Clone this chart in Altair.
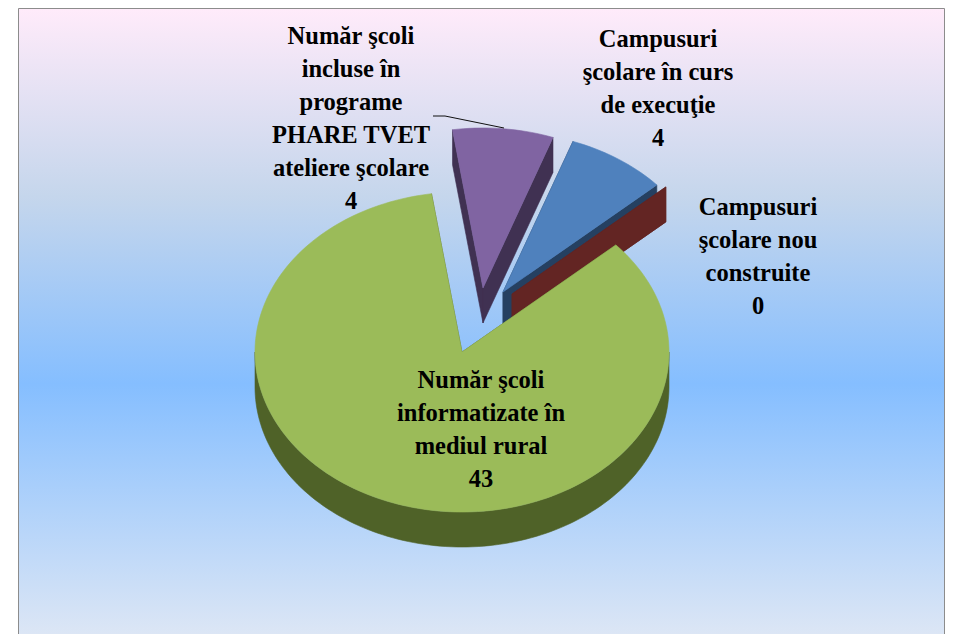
import math
import altair as alt

# --- data
categories = ["Număr şcoli informatizate în mediul rural",
              "Număr şcoli incluse în programe PHARE TVET ateliere şcolare",
              "Campusuri şcolare în curs de execuţie",
              "Campusuri şcolare nou construite"]
values = [43, 4, 4, 0]
label_lines = [
    ["Număr şcoli", "informatizate în", "mediul rural", "43"],
    ["Număr şcoli", "incluse în", "programe", "PHARE TVET", "ateliere şcolare", "4"],
    ["Campusuri", "şcolare în curs", "de execuţie", "4"],
    ["Campusuri", "şcolare nou", "construite", "0"],
]
top_colors = ["#9BBB59", "#8064A2", "#4F81BD", "#C0504D"]
side_colors = ["#4F6228", "#403152", "#254061", "#632523"]

# --- layout (page pixels)
W, H = 937, 626
OX, OY = 8, 8
RIGHT = 944.5
START = 48.0
RX, TILT, DEPTH = 207.0, 0.773, 35.0
apexes = [(462, 352), (483, 288), (503, 292), (512, 294)]
label_anchor = [(481, 380.5), (351, 36.5), (658, 39.5), (758, 207.5)]
LINE_H = 33.0
PROJ = dict(type="identity", scale=1, translate=[0, 0])


def feature(rings, color, kind="Polygon"):
    return {"type": "Feature", "geometry": {"type": kind, "coordinates": rings},
            "properties": {"color": color}}


def to_chart(x, y):
    return [x - OX, y - OY]


def rim(apex, deg):
    a = math.radians(deg)
    return (apex[0] + RX * math.sin(a), apex[1] - RX * TILT * math.cos(a))


def arc_degrees(a0, a1):
    n = max(1, int((a1 - a0) / 1.5))
    return [a0 + (a1 - a0) * i / n for i in range(n + 1)]


def quad(p, q, color):
    pts = [p, q, (q[0], q[1] + DEPTH), (p[0], p[1] + DEPTH), p]
    return feature([[to_chart(*c) for c in pts]], color)


total = sum(values)
spans = []
cursor = START
for v in values:
    spans.append((cursor, cursor + 360.0 * v / total))
    cursor += 360.0 * v / total


def slice_features(i):
    a0, a1 = spans[i]
    apex = apexes[i]
    out = []
    # cut faces
    out.append(quad(apex, rim(apex, a0), side_colors[i]))
    out.append(quad(apex, rim(apex, a1), side_colors[i]))
    # visible outer wall
    lo, hi = max(a0, 90.0), min(a1, 270.0)
    if hi > lo:
        arc = [rim(apex, d) for d in arc_degrees(lo, hi)]
        ring = arc + [(x, y + DEPTH) for x, y in reversed(arc)] + [arc[0]]
        out.append(feature([[to_chart(*c) for c in ring]], side_colors[i]))
    # top face
    if a1 > a0:
        ring = [apex] + [rim(apex, d) for d in arc_degrees(a0, a1)] + [apex]
        out.append(feature([[to_chart(*c) for c in ring]], top_colors[i]))
    return out


pie = []
for i in [1, 2, 3, 0]:
    pie += slice_features(i)

panel = feature([[to_chart(18, 8.5), to_chart(RIGHT, 8.5), to_chart(RIGHT, 634),
                  to_chart(18, 634), to_chart(18, 8.5)]], "panel")
border = feature([to_chart(18.5, 634), to_chart(18.5, 8.5), to_chart(RIGHT, 8.5), to_chart(RIGHT, 634)],
                 "#8C8C8C", "LineString")
leader = feature([to_chart(433, 116), to_chart(445, 116), to_chart(504, 128)],
                 "#111111", "LineString")

labels = [{"lon": to_chart(*label_anchor[i])[0],
           "lat": to_chart(*label_anchor[i])[1] + LINE_H * j,
           "line": line}
          for i, lines in enumerate(label_lines) for j, line in enumerate(lines)]

panel_layer = alt.Chart(alt.Data(values=[panel])).mark_geoshape(
    strokeWidth=0,
    fill=alt.LinearGradient(
        gradient="linear", x1=0, y1=0, x2=0, y2=1,
        stops=[alt.GradientStop(color="#FFEBFA", offset=0),
               alt.GradientStop(color="#C5D6EC", offset=0.3),
               alt.GradientStop(color="#85BEFF", offset=0.6),
               alt.GradientStop(color="#DCE6F5", offset=1)])).project(**PROJ)
pie_layer = alt.Chart(alt.Data(values=pie)).mark_geoshape(strokeWidth=0.6).encode(
    fill=alt.Fill("properties.color:N", scale=None),
    stroke=alt.Stroke("properties.color:N", scale=None)).project(**PROJ)
line_layer = alt.Chart(alt.Data(values=[border, leader])).mark_geoshape(filled=False, strokeWidth=1).encode(
    stroke=alt.Stroke("properties.color:N", scale=None)).project(**PROJ)
text_layer = alt.Chart(alt.Data(values=labels)).mark_text(
    font="Liberation Serif", fontWeight="bold", fontSize=24.5, color="#000000",
    align="center", baseline="middle").encode(
    longitude="lon:Q", latitude="lat:Q", text="line:N").project(**PROJ)

chart = alt.layer(panel_layer, pie_layer, line_layer, text_layer).properties(
    width=W, height=H, padding=0, autosize=alt.AutoSizeParams(type="none"),
    background="#FFFFFF").configure_view(stroke=None)

chart.save("out.html", embed_options={"renderer": "svg", "actions": False})
